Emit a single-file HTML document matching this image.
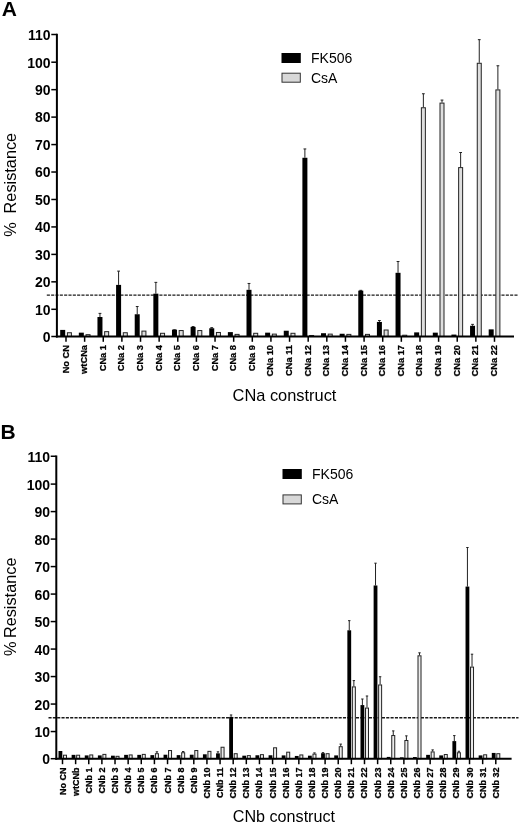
<!DOCTYPE html>
<html><head><meta charset="utf-8"><title>Figure</title>
<style>
html,body{margin:0;padding:0;background:#fff;}
body{width:520px;height:823px;overflow:hidden;font-family:"Liberation Sans",sans-serif;}
svg{display:block;transform:translateZ(0);will-change:transform;}
svg text{font-family:"Liberation Sans",sans-serif;fill:#000;}
</style></head>
<body>
<svg width="520" height="823" viewBox="0 0 520 823">
<rect x="0" y="0" width="520" height="823" fill="#fff"/>
<text x="1.8" y="16" font-size="21" font-weight="bold">A</text>
<text x="0.4" y="438.8" font-size="21" font-weight="bold">B</text>
<line x1="46.8" y1="295.12" x2="518.5" y2="295.12" stroke="#1a1a1a" stroke-width="1.35" stroke-dasharray="3.1 1.23"/>
<rect x="60.20" y="329.91" width="5" height="6.59" fill="#000"/>
<rect x="67.40" y="332.74" width="4" height="3.76" fill="#dedede" stroke="#222" stroke-width="1"/>
<rect x="78.83" y="332.66" width="5" height="3.84" fill="#000"/>
<rect x="86.03" y="334.67" width="4" height="1.83" fill="#dedede" stroke="#222" stroke-width="1"/>
<line x1="99.96" y1="313.39" x2="99.96" y2="317.01" stroke="#222" stroke-width="1"/>
<line x1="98.56" y1="313.39" x2="101.36" y2="313.39" stroke="#222" stroke-width="1"/>
<rect x="97.46" y="317.01" width="5" height="19.49" fill="#000"/>
<rect x="104.66" y="331.65" width="4" height="4.85" fill="#dedede" stroke="#222" stroke-width="1"/>
<line x1="118.59" y1="271.11" x2="118.59" y2="284.89" stroke="#222" stroke-width="1"/>
<line x1="117.19" y1="271.11" x2="119.99" y2="271.11" stroke="#222" stroke-width="1"/>
<rect x="116.09" y="284.89" width="5" height="51.61" fill="#000"/>
<rect x="123.29" y="332.74" width="4" height="3.76" fill="#dedede" stroke="#222" stroke-width="1"/>
<line x1="137.22" y1="306.53" x2="137.22" y2="314.26" stroke="#222" stroke-width="1"/>
<line x1="135.82" y1="306.53" x2="138.62" y2="306.53" stroke="#222" stroke-width="1"/>
<rect x="134.72" y="314.26" width="5" height="22.24" fill="#000"/>
<rect x="141.92" y="331.10" width="4" height="5.40" fill="#dedede" stroke="#222" stroke-width="1"/>
<line x1="155.85" y1="282.37" x2="155.85" y2="293.67" stroke="#222" stroke-width="1"/>
<line x1="154.45" y1="282.37" x2="157.25" y2="282.37" stroke="#222" stroke-width="1"/>
<rect x="153.35" y="293.67" width="5" height="42.83" fill="#000"/>
<rect x="160.55" y="333.29" width="4" height="3.21" fill="#dedede" stroke="#222" stroke-width="1"/>
<line x1="174.48" y1="329.86" x2="174.48" y2="329.64" stroke="#222" stroke-width="1"/>
<line x1="173.08" y1="329.86" x2="175.88" y2="329.86" stroke="#222" stroke-width="1"/>
<rect x="171.98" y="329.64" width="5" height="6.86" fill="#000"/>
<rect x="179.18" y="330.55" width="4" height="5.95" fill="#dedede" stroke="#222" stroke-width="1"/>
<line x1="193.11" y1="326.57" x2="193.11" y2="326.89" stroke="#222" stroke-width="1"/>
<line x1="191.71" y1="326.57" x2="194.51" y2="326.57" stroke="#222" stroke-width="1"/>
<rect x="190.61" y="326.89" width="5" height="9.61" fill="#000"/>
<rect x="197.81" y="330.55" width="4" height="5.95" fill="#dedede" stroke="#222" stroke-width="1"/>
<line x1="211.74" y1="327.67" x2="211.74" y2="328.26" stroke="#222" stroke-width="1"/>
<line x1="210.34" y1="327.67" x2="213.14" y2="327.67" stroke="#222" stroke-width="1"/>
<rect x="209.24" y="328.26" width="5" height="8.24" fill="#000"/>
<rect x="216.44" y="332.47" width="4" height="4.03" fill="#dedede" stroke="#222" stroke-width="1"/>
<rect x="227.87" y="332.11" width="5" height="4.39" fill="#000"/>
<rect x="235.07" y="334.39" width="4" height="2.11" fill="#dedede" stroke="#222" stroke-width="1"/>
<line x1="249.00" y1="283.46" x2="249.00" y2="289.83" stroke="#222" stroke-width="1"/>
<line x1="247.60" y1="283.46" x2="250.40" y2="283.46" stroke="#222" stroke-width="1"/>
<rect x="246.50" y="289.83" width="5" height="46.67" fill="#000"/>
<rect x="253.70" y="333.29" width="4" height="3.21" fill="#dedede" stroke="#222" stroke-width="1"/>
<rect x="265.13" y="332.66" width="5" height="3.84" fill="#000"/>
<rect x="272.33" y="334.12" width="4" height="2.38" fill="#dedede" stroke="#222" stroke-width="1"/>
<rect x="283.76" y="330.73" width="5" height="5.77" fill="#000"/>
<rect x="290.96" y="333.29" width="4" height="3.21" fill="#dedede" stroke="#222" stroke-width="1"/>
<line x1="304.89" y1="148.94" x2="304.89" y2="157.77" stroke="#222" stroke-width="1"/>
<line x1="303.49" y1="148.94" x2="306.29" y2="148.94" stroke="#222" stroke-width="1"/>
<rect x="302.39" y="157.77" width="5" height="178.73" fill="#000"/>
<rect x="309.59" y="335.49" width="4" height="1.01" fill="#dedede" stroke="#222" stroke-width="1"/>
<rect x="321.02" y="333.21" width="5" height="3.29" fill="#000"/>
<rect x="328.22" y="334.12" width="4" height="2.38" fill="#dedede" stroke="#222" stroke-width="1"/>
<rect x="339.65" y="333.75" width="5" height="2.75" fill="#000"/>
<rect x="346.85" y="334.39" width="4" height="2.11" fill="#dedede" stroke="#222" stroke-width="1"/>
<line x1="360.78" y1="290.33" x2="360.78" y2="290.65" stroke="#222" stroke-width="1"/>
<line x1="359.38" y1="290.33" x2="362.18" y2="290.33" stroke="#222" stroke-width="1"/>
<rect x="358.28" y="290.65" width="5" height="45.85" fill="#000"/>
<rect x="365.48" y="334.39" width="4" height="2.11" fill="#dedede" stroke="#222" stroke-width="1"/>
<line x1="379.41" y1="320.53" x2="379.41" y2="321.95" stroke="#222" stroke-width="1"/>
<line x1="378.01" y1="320.53" x2="380.81" y2="320.53" stroke="#222" stroke-width="1"/>
<rect x="376.91" y="321.95" width="5" height="14.55" fill="#000"/>
<rect x="384.11" y="330.00" width="4" height="6.50" fill="#dedede" stroke="#222" stroke-width="1"/>
<line x1="398.04" y1="261.50" x2="398.04" y2="272.81" stroke="#222" stroke-width="1"/>
<line x1="396.64" y1="261.50" x2="399.44" y2="261.50" stroke="#222" stroke-width="1"/>
<rect x="395.54" y="272.81" width="5" height="63.69" fill="#000"/>
<rect x="402.74" y="335.22" width="4" height="1.28" fill="#dedede" stroke="#222" stroke-width="1"/>
<rect x="414.17" y="332.38" width="5" height="4.12" fill="#000"/>
<line x1="423.37" y1="93.75" x2="423.37" y2="107.25" stroke="#222" stroke-width="1"/>
<line x1="421.97" y1="93.75" x2="424.77" y2="93.75" stroke="#222" stroke-width="1"/>
<rect x="421.37" y="107.75" width="4" height="228.75" fill="#dedede" stroke="#222" stroke-width="1"/>
<rect x="432.80" y="332.66" width="5" height="3.84" fill="#000"/>
<line x1="442.00" y1="100.07" x2="442.00" y2="102.59" stroke="#222" stroke-width="1"/>
<line x1="440.60" y1="100.07" x2="443.40" y2="100.07" stroke="#222" stroke-width="1"/>
<rect x="440.00" y="103.09" width="4" height="233.41" fill="#dedede" stroke="#222" stroke-width="1"/>
<rect x="451.43" y="334.58" width="5" height="1.92" fill="#000"/>
<line x1="460.63" y1="152.51" x2="460.63" y2="167.11" stroke="#222" stroke-width="1"/>
<line x1="459.23" y1="152.51" x2="462.03" y2="152.51" stroke="#222" stroke-width="1"/>
<rect x="458.63" y="167.61" width="4" height="168.89" fill="#dedede" stroke="#222" stroke-width="1"/>
<line x1="472.56" y1="324.37" x2="472.56" y2="325.79" stroke="#222" stroke-width="1"/>
<line x1="471.16" y1="324.37" x2="473.96" y2="324.37" stroke="#222" stroke-width="1"/>
<rect x="470.06" y="325.79" width="5" height="10.71" fill="#000"/>
<line x1="479.26" y1="39.67" x2="479.26" y2="62.78" stroke="#222" stroke-width="1"/>
<line x1="477.86" y1="39.67" x2="480.66" y2="39.67" stroke="#222" stroke-width="1"/>
<rect x="477.26" y="63.28" width="4" height="273.22" fill="#dedede" stroke="#222" stroke-width="1"/>
<rect x="488.69" y="329.36" width="5" height="7.14" fill="#000"/>
<line x1="497.89" y1="65.75" x2="497.89" y2="89.41" stroke="#222" stroke-width="1"/>
<line x1="496.49" y1="65.75" x2="499.29" y2="65.75" stroke="#222" stroke-width="1"/>
<rect x="495.89" y="89.91" width="4" height="246.59" fill="#dedede" stroke="#222" stroke-width="1"/>
<line x1="56.9" y1="33.75" x2="56.9" y2="337.50" stroke="#000" stroke-width="2"/>
<line x1="55.9" y1="336.50" x2="514" y2="336.50" stroke="#000" stroke-width="2"/>
<line x1="51.30" y1="336.50" x2="56.9" y2="336.50" stroke="#000" stroke-width="1.5"/>
<text transform="translate(50.60,341.85) scale(1,1.07)" text-anchor="end" font-size="14" font-weight="bold">0</text>
<line x1="51.30" y1="309.30" x2="56.9" y2="309.30" stroke="#000" stroke-width="1.5"/>
<text transform="translate(50.60,314.65) scale(1,1.07)" text-anchor="end" font-size="14" font-weight="bold">10</text>
<line x1="51.30" y1="281.84" x2="56.9" y2="281.84" stroke="#000" stroke-width="1.5"/>
<text transform="translate(50.60,287.19) scale(1,1.07)" text-anchor="end" font-size="14" font-weight="bold">20</text>
<line x1="51.30" y1="254.39" x2="56.9" y2="254.39" stroke="#000" stroke-width="1.5"/>
<text transform="translate(50.60,259.74) scale(1,1.07)" text-anchor="end" font-size="14" font-weight="bold">30</text>
<line x1="51.30" y1="226.93" x2="56.9" y2="226.93" stroke="#000" stroke-width="1.5"/>
<text transform="translate(50.60,232.28) scale(1,1.07)" text-anchor="end" font-size="14" font-weight="bold">40</text>
<line x1="51.30" y1="199.48" x2="56.9" y2="199.48" stroke="#000" stroke-width="1.5"/>
<text transform="translate(50.60,204.83) scale(1,1.07)" text-anchor="end" font-size="14" font-weight="bold">50</text>
<line x1="51.30" y1="172.02" x2="56.9" y2="172.02" stroke="#000" stroke-width="1.5"/>
<text transform="translate(50.60,177.37) scale(1,1.07)" text-anchor="end" font-size="14" font-weight="bold">60</text>
<line x1="51.30" y1="144.57" x2="56.9" y2="144.57" stroke="#000" stroke-width="1.5"/>
<text transform="translate(50.60,149.92) scale(1,1.07)" text-anchor="end" font-size="14" font-weight="bold">70</text>
<line x1="51.30" y1="117.11" x2="56.9" y2="117.11" stroke="#000" stroke-width="1.5"/>
<text transform="translate(50.60,122.46) scale(1,1.07)" text-anchor="end" font-size="14" font-weight="bold">80</text>
<line x1="51.30" y1="89.66" x2="56.9" y2="89.66" stroke="#000" stroke-width="1.5"/>
<text transform="translate(50.60,95.01) scale(1,1.07)" text-anchor="end" font-size="14" font-weight="bold">90</text>
<line x1="51.30" y1="62.20" x2="56.9" y2="62.20" stroke="#000" stroke-width="1.5"/>
<text transform="translate(50.60,67.55) scale(1,1.07)" text-anchor="end" font-size="14" font-weight="bold">100</text>
<line x1="51.30" y1="34.50" x2="56.9" y2="34.50" stroke="#000" stroke-width="1.5"/>
<text transform="translate(50.60,39.85) scale(1,1.07)" text-anchor="end" font-size="14" font-weight="bold">110</text>
<line x1="66.00" y1="336.50" x2="66.00" y2="341.8" stroke="#000" stroke-width="1.5"/>
<text transform="translate(68.50,345) rotate(-90) scale(1,1.05)" text-anchor="end" font-size="9.3" font-weight="bold" stroke="#000" stroke-width="0.25">No CN</text>
<line x1="84.63" y1="336.50" x2="84.63" y2="341.8" stroke="#000" stroke-width="1.5"/>
<text transform="translate(87.13,345) rotate(-90) scale(1,1.05)" text-anchor="end" font-size="9.3" font-weight="bold" stroke="#000" stroke-width="0.25">wtCNa</text>
<line x1="103.26" y1="336.50" x2="103.26" y2="341.8" stroke="#000" stroke-width="1.5"/>
<text transform="translate(105.76,345) rotate(-90) scale(1,1.05)" text-anchor="end" font-size="9.3" font-weight="bold" stroke="#000" stroke-width="0.25">CNa 1</text>
<line x1="121.89" y1="336.50" x2="121.89" y2="341.8" stroke="#000" stroke-width="1.5"/>
<text transform="translate(124.39,345) rotate(-90) scale(1,1.05)" text-anchor="end" font-size="9.3" font-weight="bold" stroke="#000" stroke-width="0.25">CNa 2</text>
<line x1="140.52" y1="336.50" x2="140.52" y2="341.8" stroke="#000" stroke-width="1.5"/>
<text transform="translate(143.02,345) rotate(-90) scale(1,1.05)" text-anchor="end" font-size="9.3" font-weight="bold" stroke="#000" stroke-width="0.25">CNa 3</text>
<line x1="159.15" y1="336.50" x2="159.15" y2="341.8" stroke="#000" stroke-width="1.5"/>
<text transform="translate(161.65,345) rotate(-90) scale(1,1.05)" text-anchor="end" font-size="9.3" font-weight="bold" stroke="#000" stroke-width="0.25">CNa 4</text>
<line x1="177.78" y1="336.50" x2="177.78" y2="341.8" stroke="#000" stroke-width="1.5"/>
<text transform="translate(180.28,345) rotate(-90) scale(1,1.05)" text-anchor="end" font-size="9.3" font-weight="bold" stroke="#000" stroke-width="0.25">CNa 5</text>
<line x1="196.41" y1="336.50" x2="196.41" y2="341.8" stroke="#000" stroke-width="1.5"/>
<text transform="translate(198.91,345) rotate(-90) scale(1,1.05)" text-anchor="end" font-size="9.3" font-weight="bold" stroke="#000" stroke-width="0.25">CNa 6</text>
<line x1="215.04" y1="336.50" x2="215.04" y2="341.8" stroke="#000" stroke-width="1.5"/>
<text transform="translate(217.54,345) rotate(-90) scale(1,1.05)" text-anchor="end" font-size="9.3" font-weight="bold" stroke="#000" stroke-width="0.25">CNa 7</text>
<line x1="233.67" y1="336.50" x2="233.67" y2="341.8" stroke="#000" stroke-width="1.5"/>
<text transform="translate(236.17,345) rotate(-90) scale(1,1.05)" text-anchor="end" font-size="9.3" font-weight="bold" stroke="#000" stroke-width="0.25">CNa 8</text>
<line x1="252.30" y1="336.50" x2="252.30" y2="341.8" stroke="#000" stroke-width="1.5"/>
<text transform="translate(254.80,345) rotate(-90) scale(1,1.05)" text-anchor="end" font-size="9.3" font-weight="bold" stroke="#000" stroke-width="0.25">CNa 9</text>
<line x1="270.93" y1="336.50" x2="270.93" y2="341.8" stroke="#000" stroke-width="1.5"/>
<text transform="translate(273.43,345) rotate(-90) scale(1,1.05)" text-anchor="end" font-size="9.3" font-weight="bold" stroke="#000" stroke-width="0.25">CNa 10</text>
<line x1="289.56" y1="336.50" x2="289.56" y2="341.8" stroke="#000" stroke-width="1.5"/>
<text transform="translate(292.06,345) rotate(-90) scale(1,1.05)" text-anchor="end" font-size="9.3" font-weight="bold" stroke="#000" stroke-width="0.25">CNa 11</text>
<line x1="308.19" y1="336.50" x2="308.19" y2="341.8" stroke="#000" stroke-width="1.5"/>
<text transform="translate(310.69,345) rotate(-90) scale(1,1.05)" text-anchor="end" font-size="9.3" font-weight="bold" stroke="#000" stroke-width="0.25">CNa 12</text>
<line x1="326.82" y1="336.50" x2="326.82" y2="341.8" stroke="#000" stroke-width="1.5"/>
<text transform="translate(329.32,345) rotate(-90) scale(1,1.05)" text-anchor="end" font-size="9.3" font-weight="bold" stroke="#000" stroke-width="0.25">CNa 13</text>
<line x1="345.45" y1="336.50" x2="345.45" y2="341.8" stroke="#000" stroke-width="1.5"/>
<text transform="translate(347.95,345) rotate(-90) scale(1,1.05)" text-anchor="end" font-size="9.3" font-weight="bold" stroke="#000" stroke-width="0.25">CNa 14</text>
<line x1="364.08" y1="336.50" x2="364.08" y2="341.8" stroke="#000" stroke-width="1.5"/>
<text transform="translate(366.58,345) rotate(-90) scale(1,1.05)" text-anchor="end" font-size="9.3" font-weight="bold" stroke="#000" stroke-width="0.25">CNa 15</text>
<line x1="382.71" y1="336.50" x2="382.71" y2="341.8" stroke="#000" stroke-width="1.5"/>
<text transform="translate(385.21,345) rotate(-90) scale(1,1.05)" text-anchor="end" font-size="9.3" font-weight="bold" stroke="#000" stroke-width="0.25">CNa 16</text>
<line x1="401.34" y1="336.50" x2="401.34" y2="341.8" stroke="#000" stroke-width="1.5"/>
<text transform="translate(403.84,345) rotate(-90) scale(1,1.05)" text-anchor="end" font-size="9.3" font-weight="bold" stroke="#000" stroke-width="0.25">CNa 17</text>
<line x1="419.97" y1="336.50" x2="419.97" y2="341.8" stroke="#000" stroke-width="1.5"/>
<text transform="translate(422.47,345) rotate(-90) scale(1,1.05)" text-anchor="end" font-size="9.3" font-weight="bold" stroke="#000" stroke-width="0.25">CNa 18</text>
<line x1="438.60" y1="336.50" x2="438.60" y2="341.8" stroke="#000" stroke-width="1.5"/>
<text transform="translate(441.10,345) rotate(-90) scale(1,1.05)" text-anchor="end" font-size="9.3" font-weight="bold" stroke="#000" stroke-width="0.25">CNa 19</text>
<line x1="457.23" y1="336.50" x2="457.23" y2="341.8" stroke="#000" stroke-width="1.5"/>
<text transform="translate(459.73,345) rotate(-90) scale(1,1.05)" text-anchor="end" font-size="9.3" font-weight="bold" stroke="#000" stroke-width="0.25">CNa 20</text>
<line x1="475.86" y1="336.50" x2="475.86" y2="341.8" stroke="#000" stroke-width="1.5"/>
<text transform="translate(478.36,345) rotate(-90) scale(1,1.05)" text-anchor="end" font-size="9.3" font-weight="bold" stroke="#000" stroke-width="0.25">CNa 21</text>
<line x1="494.49" y1="336.50" x2="494.49" y2="341.8" stroke="#000" stroke-width="1.5"/>
<text transform="translate(496.99,345) rotate(-90) scale(1,1.05)" text-anchor="end" font-size="9.3" font-weight="bold" stroke="#000" stroke-width="0.25">CNa 22</text>
<text x="284.5" y="400.7" text-anchor="middle" font-size="16.4">CNa construct</text>
<text transform="translate(16.4,213.4) rotate(-90)" text-anchor="start" font-size="16.3">Resistance</text>
<text transform="translate(16.4,236.8) rotate(-90)" text-anchor="start" font-size="16.3">%</text>
<rect x="281.5" y="53" width="19.3" height="10" fill="#000"/>
<rect x="282.0" y="73.2" width="18.3" height="9" fill="#d8d8d8" stroke="#333" stroke-width="1"/>
<text x="311.0" y="63" font-size="14">FK506</text>
<text x="311.0" y="82.5" font-size="14">CsA</text>
<line x1="48.5" y1="717.76" x2="518.5" y2="717.76" stroke="#1a1a1a" stroke-width="1.35" stroke-dasharray="3.1 1.23"/>
<rect x="58.50" y="751.00" width="3.8" height="7.70" fill="#000"/>
<rect x="63.50" y="755.21" width="3" height="3.49" fill="#ececec" stroke="#222" stroke-width="1"/>
<rect x="71.63" y="754.85" width="3.8" height="3.85" fill="#000"/>
<rect x="76.63" y="755.21" width="3" height="3.49" fill="#ececec" stroke="#222" stroke-width="1"/>
<rect x="84.76" y="755.40" width="3.8" height="3.30" fill="#000"/>
<rect x="89.76" y="754.94" width="3" height="3.76" fill="#ececec" stroke="#222" stroke-width="1"/>
<rect x="97.89" y="755.40" width="3.8" height="3.30" fill="#000"/>
<rect x="102.89" y="754.39" width="3" height="4.31" fill="#ececec" stroke="#222" stroke-width="1"/>
<rect x="111.02" y="755.68" width="3.8" height="3.02" fill="#000"/>
<rect x="116.02" y="756.31" width="3" height="2.39" fill="#ececec" stroke="#222" stroke-width="1"/>
<rect x="124.15" y="754.85" width="3.8" height="3.85" fill="#000"/>
<rect x="129.15" y="754.94" width="3" height="3.76" fill="#ececec" stroke="#222" stroke-width="1"/>
<rect x="137.28" y="754.85" width="3.8" height="3.85" fill="#000"/>
<rect x="142.28" y="754.39" width="3" height="4.31" fill="#ececec" stroke="#222" stroke-width="1"/>
<rect x="150.41" y="755.13" width="3.8" height="3.57" fill="#000"/>
<line x1="156.91" y1="751.80" x2="156.91" y2="753.20" stroke="#222" stroke-width="1"/>
<line x1="155.71" y1="751.80" x2="158.11" y2="751.80" stroke="#222" stroke-width="1"/>
<rect x="155.41" y="753.70" width="3" height="5.00" fill="#ececec" stroke="#222" stroke-width="1"/>
<rect x="163.54" y="754.71" width="3.8" height="3.99" fill="#000"/>
<rect x="168.54" y="750.54" width="3" height="8.16" fill="#ececec" stroke="#222" stroke-width="1"/>
<rect x="176.67" y="755.13" width="3.8" height="3.57" fill="#000"/>
<line x1="183.17" y1="751.53" x2="183.17" y2="752.24" stroke="#222" stroke-width="1"/>
<line x1="181.97" y1="751.53" x2="184.37" y2="751.53" stroke="#222" stroke-width="1"/>
<rect x="181.67" y="752.74" width="3" height="5.96" fill="#ececec" stroke="#222" stroke-width="1"/>
<rect x="189.80" y="754.71" width="3.8" height="3.99" fill="#000"/>
<rect x="194.80" y="750.54" width="3" height="8.16" fill="#ececec" stroke="#222" stroke-width="1"/>
<rect x="202.93" y="754.30" width="3.8" height="4.40" fill="#000"/>
<rect x="207.93" y="751.36" width="3" height="7.34" fill="#ececec" stroke="#222" stroke-width="1"/>
<line x1="217.96" y1="751.80" x2="217.96" y2="753.34" stroke="#222" stroke-width="1"/>
<line x1="216.76" y1="751.80" x2="219.16" y2="751.80" stroke="#222" stroke-width="1"/>
<rect x="216.06" y="753.34" width="3.8" height="5.36" fill="#000"/>
<rect x="221.06" y="747.24" width="3" height="11.46" fill="#ececec" stroke="#222" stroke-width="1"/>
<line x1="231.09" y1="714.96" x2="231.09" y2="716.91" stroke="#222" stroke-width="1"/>
<line x1="229.89" y1="714.96" x2="232.29" y2="714.96" stroke="#222" stroke-width="1"/>
<rect x="229.19" y="716.91" width="3.8" height="41.79" fill="#000"/>
<rect x="234.19" y="753.70" width="3" height="5.00" fill="#ececec" stroke="#222" stroke-width="1"/>
<rect x="242.32" y="755.68" width="3.8" height="3.02" fill="#000"/>
<rect x="247.32" y="755.63" width="3" height="3.07" fill="#ececec" stroke="#222" stroke-width="1"/>
<rect x="255.45" y="755.26" width="3.8" height="3.44" fill="#000"/>
<rect x="260.45" y="754.66" width="3" height="4.04" fill="#ececec" stroke="#222" stroke-width="1"/>
<rect x="268.58" y="755.26" width="3.8" height="3.44" fill="#000"/>
<rect x="273.58" y="747.79" width="3" height="10.91" fill="#ececec" stroke="#222" stroke-width="1"/>
<rect x="281.71" y="755.40" width="3.8" height="3.30" fill="#000"/>
<rect x="286.71" y="752.19" width="3" height="6.51" fill="#ececec" stroke="#222" stroke-width="1"/>
<rect x="294.84" y="755.95" width="3.8" height="2.75" fill="#000"/>
<rect x="299.84" y="754.94" width="3" height="3.76" fill="#ececec" stroke="#222" stroke-width="1"/>
<rect x="307.97" y="755.68" width="3.8" height="3.02" fill="#000"/>
<line x1="314.47" y1="752.90" x2="314.47" y2="753.61" stroke="#222" stroke-width="1"/>
<line x1="313.27" y1="752.90" x2="315.67" y2="752.90" stroke="#222" stroke-width="1"/>
<rect x="312.97" y="754.11" width="3" height="4.59" fill="#ececec" stroke="#222" stroke-width="1"/>
<line x1="323.00" y1="752.63" x2="323.00" y2="753.20" stroke="#222" stroke-width="1"/>
<line x1="321.80" y1="752.63" x2="324.20" y2="752.63" stroke="#222" stroke-width="1"/>
<rect x="321.10" y="753.20" width="3.8" height="5.50" fill="#000"/>
<rect x="326.10" y="753.70" width="3" height="5.00" fill="#ececec" stroke="#222" stroke-width="1"/>
<rect x="334.23" y="755.40" width="3.8" height="3.30" fill="#000"/>
<line x1="340.73" y1="744.10" x2="340.73" y2="746.19" stroke="#222" stroke-width="1"/>
<line x1="339.53" y1="744.10" x2="341.93" y2="744.10" stroke="#222" stroke-width="1"/>
<rect x="339.23" y="746.69" width="3" height="12.01" fill="#ececec" stroke="#222" stroke-width="1"/>
<line x1="349.26" y1="620.65" x2="349.26" y2="630.30" stroke="#222" stroke-width="1"/>
<line x1="348.06" y1="620.65" x2="350.46" y2="620.65" stroke="#222" stroke-width="1"/>
<rect x="347.36" y="630.30" width="3.8" height="128.40" fill="#000"/>
<line x1="353.86" y1="680.59" x2="353.86" y2="686.39" stroke="#222" stroke-width="1"/>
<line x1="352.66" y1="680.59" x2="355.06" y2="680.59" stroke="#222" stroke-width="1"/>
<rect x="352.36" y="686.89" width="3" height="71.81" fill="#ececec" stroke="#222" stroke-width="1"/>
<line x1="362.39" y1="699.01" x2="362.39" y2="705.08" stroke="#222" stroke-width="1"/>
<line x1="361.19" y1="699.01" x2="363.59" y2="699.01" stroke="#222" stroke-width="1"/>
<rect x="360.49" y="705.08" width="3.8" height="53.62" fill="#000"/>
<line x1="366.99" y1="695.99" x2="366.99" y2="707.56" stroke="#222" stroke-width="1"/>
<line x1="365.79" y1="695.99" x2="368.19" y2="695.99" stroke="#222" stroke-width="1"/>
<rect x="365.49" y="708.06" width="3" height="50.64" fill="#ececec" stroke="#222" stroke-width="1"/>
<line x1="375.52" y1="563.18" x2="375.52" y2="585.48" stroke="#222" stroke-width="1"/>
<line x1="374.32" y1="563.18" x2="376.72" y2="563.18" stroke="#222" stroke-width="1"/>
<rect x="373.62" y="585.48" width="3.8" height="173.22" fill="#000"/>
<line x1="380.12" y1="676.74" x2="380.12" y2="684.46" stroke="#222" stroke-width="1"/>
<line x1="378.92" y1="676.74" x2="381.32" y2="676.74" stroke="#222" stroke-width="1"/>
<rect x="378.62" y="684.96" width="3" height="73.74" fill="#ececec" stroke="#222" stroke-width="1"/>
<rect x="386.75" y="756.91" width="3.8" height="1.79" fill="#000"/>
<line x1="393.25" y1="730.90" x2="393.25" y2="735.05" stroke="#222" stroke-width="1"/>
<line x1="392.05" y1="730.90" x2="394.45" y2="730.90" stroke="#222" stroke-width="1"/>
<rect x="391.75" y="735.55" width="3" height="23.15" fill="#ececec" stroke="#222" stroke-width="1"/>
<rect x="399.88" y="757.33" width="3.8" height="1.37" fill="#000"/>
<line x1="406.38" y1="735.85" x2="406.38" y2="740.00" stroke="#222" stroke-width="1"/>
<line x1="405.18" y1="735.85" x2="407.58" y2="735.85" stroke="#222" stroke-width="1"/>
<rect x="404.88" y="740.50" width="3" height="18.20" fill="#ececec" stroke="#222" stroke-width="1"/>
<rect x="413.01" y="757.05" width="3.8" height="1.65" fill="#000"/>
<line x1="419.51" y1="652.82" x2="419.51" y2="655.32" stroke="#222" stroke-width="1"/>
<line x1="418.31" y1="652.82" x2="420.71" y2="652.82" stroke="#222" stroke-width="1"/>
<rect x="418.01" y="655.82" width="3" height="102.88" fill="#ececec" stroke="#222" stroke-width="1"/>
<rect x="426.14" y="754.85" width="3.8" height="3.85" fill="#000"/>
<line x1="432.64" y1="749.88" x2="432.64" y2="751.41" stroke="#222" stroke-width="1"/>
<line x1="431.44" y1="749.88" x2="433.84" y2="749.88" stroke="#222" stroke-width="1"/>
<rect x="431.14" y="751.91" width="3" height="6.79" fill="#ececec" stroke="#222" stroke-width="1"/>
<rect x="439.27" y="755.40" width="3.8" height="3.30" fill="#000"/>
<rect x="444.27" y="754.53" width="3" height="4.17" fill="#ececec" stroke="#222" stroke-width="1"/>
<line x1="454.30" y1="735.58" x2="454.30" y2="741.10" stroke="#222" stroke-width="1"/>
<line x1="453.10" y1="735.58" x2="455.50" y2="735.58" stroke="#222" stroke-width="1"/>
<rect x="452.40" y="741.10" width="3.8" height="17.60" fill="#000"/>
<line x1="458.90" y1="751.25" x2="458.90" y2="752.24" stroke="#222" stroke-width="1"/>
<line x1="457.70" y1="751.25" x2="460.10" y2="751.25" stroke="#222" stroke-width="1"/>
<rect x="457.40" y="752.74" width="3" height="5.96" fill="#ececec" stroke="#222" stroke-width="1"/>
<line x1="467.43" y1="547.51" x2="467.43" y2="586.58" stroke="#222" stroke-width="1"/>
<line x1="466.23" y1="547.51" x2="468.63" y2="547.51" stroke="#222" stroke-width="1"/>
<rect x="465.53" y="586.58" width="3.8" height="172.12" fill="#000"/>
<line x1="472.03" y1="654.19" x2="472.03" y2="666.59" stroke="#222" stroke-width="1"/>
<line x1="470.83" y1="654.19" x2="473.23" y2="654.19" stroke="#222" stroke-width="1"/>
<rect x="470.53" y="667.09" width="3" height="91.61" fill="#ececec" stroke="#222" stroke-width="1"/>
<rect x="478.66" y="755.40" width="3.8" height="3.30" fill="#000"/>
<rect x="483.66" y="754.80" width="3" height="3.90" fill="#ececec" stroke="#222" stroke-width="1"/>
<rect x="491.79" y="752.93" width="3.8" height="5.77" fill="#000"/>
<rect x="496.79" y="753.70" width="3" height="5.00" fill="#ececec" stroke="#222" stroke-width="1"/>
<line x1="56.3" y1="455.50" x2="56.3" y2="759.70" stroke="#000" stroke-width="2"/>
<line x1="55.3" y1="758.70" x2="511.6" y2="758.70" stroke="#000" stroke-width="2"/>
<line x1="50.70" y1="758.70" x2="56.3" y2="758.70" stroke="#000" stroke-width="1.5"/>
<text transform="translate(50.00,764.20) scale(1,1.07)" text-anchor="end" font-size="14" font-weight="bold">0</text>
<line x1="50.70" y1="731.55" x2="56.3" y2="731.55" stroke="#000" stroke-width="1.5"/>
<text transform="translate(50.00,737.05) scale(1,1.07)" text-anchor="end" font-size="14" font-weight="bold">10</text>
<line x1="50.70" y1="704.06" x2="56.3" y2="704.06" stroke="#000" stroke-width="1.5"/>
<text transform="translate(50.00,709.56) scale(1,1.07)" text-anchor="end" font-size="14" font-weight="bold">20</text>
<line x1="50.70" y1="676.56" x2="56.3" y2="676.56" stroke="#000" stroke-width="1.5"/>
<text transform="translate(50.00,682.06) scale(1,1.07)" text-anchor="end" font-size="14" font-weight="bold">30</text>
<line x1="50.70" y1="649.07" x2="56.3" y2="649.07" stroke="#000" stroke-width="1.5"/>
<text transform="translate(50.00,654.57) scale(1,1.07)" text-anchor="end" font-size="14" font-weight="bold">40</text>
<line x1="50.70" y1="621.57" x2="56.3" y2="621.57" stroke="#000" stroke-width="1.5"/>
<text transform="translate(50.00,627.07) scale(1,1.07)" text-anchor="end" font-size="14" font-weight="bold">50</text>
<line x1="50.70" y1="594.08" x2="56.3" y2="594.08" stroke="#000" stroke-width="1.5"/>
<text transform="translate(50.00,599.58) scale(1,1.07)" text-anchor="end" font-size="14" font-weight="bold">60</text>
<line x1="50.70" y1="566.58" x2="56.3" y2="566.58" stroke="#000" stroke-width="1.5"/>
<text transform="translate(50.00,572.08) scale(1,1.07)" text-anchor="end" font-size="14" font-weight="bold">70</text>
<line x1="50.70" y1="539.09" x2="56.3" y2="539.09" stroke="#000" stroke-width="1.5"/>
<text transform="translate(50.00,544.59) scale(1,1.07)" text-anchor="end" font-size="14" font-weight="bold">80</text>
<line x1="50.70" y1="511.59" x2="56.3" y2="511.59" stroke="#000" stroke-width="1.5"/>
<text transform="translate(50.00,517.09) scale(1,1.07)" text-anchor="end" font-size="14" font-weight="bold">90</text>
<line x1="50.70" y1="484.10" x2="56.3" y2="484.10" stroke="#000" stroke-width="1.5"/>
<text transform="translate(50.00,489.60) scale(1,1.07)" text-anchor="end" font-size="14" font-weight="bold">100</text>
<line x1="50.70" y1="456.25" x2="56.3" y2="456.25" stroke="#000" stroke-width="1.5"/>
<text transform="translate(50.00,461.75) scale(1,1.07)" text-anchor="end" font-size="14" font-weight="bold">110</text>
<line x1="62.50" y1="758.70" x2="62.50" y2="764.2" stroke="#000" stroke-width="1.5"/>
<text transform="translate(65.50,767.5) rotate(-90) scale(1,1.08)" text-anchor="end" font-size="9" font-weight="bold" stroke="#000" stroke-width="0.25">No CN</text>
<line x1="75.63" y1="758.70" x2="75.63" y2="764.2" stroke="#000" stroke-width="1.5"/>
<text transform="translate(78.63,767.5) rotate(-90) scale(1,1.08)" text-anchor="end" font-size="9" font-weight="bold" stroke="#000" stroke-width="0.25">wtCNb</text>
<line x1="88.76" y1="758.70" x2="88.76" y2="764.2" stroke="#000" stroke-width="1.5"/>
<text transform="translate(91.76,767.5) rotate(-90) scale(1,1.08)" text-anchor="end" font-size="9" font-weight="bold" stroke="#000" stroke-width="0.25">CNb 1</text>
<line x1="101.89" y1="758.70" x2="101.89" y2="764.2" stroke="#000" stroke-width="1.5"/>
<text transform="translate(104.89,767.5) rotate(-90) scale(1,1.08)" text-anchor="end" font-size="9" font-weight="bold" stroke="#000" stroke-width="0.25">CNb 2</text>
<line x1="115.02" y1="758.70" x2="115.02" y2="764.2" stroke="#000" stroke-width="1.5"/>
<text transform="translate(118.02,767.5) rotate(-90) scale(1,1.08)" text-anchor="end" font-size="9" font-weight="bold" stroke="#000" stroke-width="0.25">CNb 3</text>
<line x1="128.15" y1="758.70" x2="128.15" y2="764.2" stroke="#000" stroke-width="1.5"/>
<text transform="translate(131.15,767.5) rotate(-90) scale(1,1.08)" text-anchor="end" font-size="9" font-weight="bold" stroke="#000" stroke-width="0.25">CNb 4</text>
<line x1="141.28" y1="758.70" x2="141.28" y2="764.2" stroke="#000" stroke-width="1.5"/>
<text transform="translate(144.28,767.5) rotate(-90) scale(1,1.08)" text-anchor="end" font-size="9" font-weight="bold" stroke="#000" stroke-width="0.25">CNb 5</text>
<line x1="154.41" y1="758.70" x2="154.41" y2="764.2" stroke="#000" stroke-width="1.5"/>
<text transform="translate(157.41,767.5) rotate(-90) scale(1,1.08)" text-anchor="end" font-size="9" font-weight="bold" stroke="#000" stroke-width="0.25">CNb 6</text>
<line x1="167.54" y1="758.70" x2="167.54" y2="764.2" stroke="#000" stroke-width="1.5"/>
<text transform="translate(170.54,767.5) rotate(-90) scale(1,1.08)" text-anchor="end" font-size="9" font-weight="bold" stroke="#000" stroke-width="0.25">CNb 7</text>
<line x1="180.67" y1="758.70" x2="180.67" y2="764.2" stroke="#000" stroke-width="1.5"/>
<text transform="translate(183.67,767.5) rotate(-90) scale(1,1.08)" text-anchor="end" font-size="9" font-weight="bold" stroke="#000" stroke-width="0.25">CNb 8</text>
<line x1="193.80" y1="758.70" x2="193.80" y2="764.2" stroke="#000" stroke-width="1.5"/>
<text transform="translate(196.80,767.5) rotate(-90) scale(1,1.08)" text-anchor="end" font-size="9" font-weight="bold" stroke="#000" stroke-width="0.25">CNb 9</text>
<line x1="206.93" y1="758.70" x2="206.93" y2="764.2" stroke="#000" stroke-width="1.5"/>
<text transform="translate(209.93,767.5) rotate(-90) scale(1,1.08)" text-anchor="end" font-size="9" font-weight="bold" stroke="#000" stroke-width="0.25">CNb 10</text>
<line x1="220.06" y1="758.70" x2="220.06" y2="764.2" stroke="#000" stroke-width="1.5"/>
<text transform="translate(223.06,767.5) rotate(-90) scale(1,1.08)" text-anchor="end" font-size="9" font-weight="bold" stroke="#000" stroke-width="0.25">CNb 11</text>
<line x1="233.19" y1="758.70" x2="233.19" y2="764.2" stroke="#000" stroke-width="1.5"/>
<text transform="translate(236.19,767.5) rotate(-90) scale(1,1.08)" text-anchor="end" font-size="9" font-weight="bold" stroke="#000" stroke-width="0.25">CNb 12</text>
<line x1="246.32" y1="758.70" x2="246.32" y2="764.2" stroke="#000" stroke-width="1.5"/>
<text transform="translate(249.32,767.5) rotate(-90) scale(1,1.08)" text-anchor="end" font-size="9" font-weight="bold" stroke="#000" stroke-width="0.25">CNb 13</text>
<line x1="259.45" y1="758.70" x2="259.45" y2="764.2" stroke="#000" stroke-width="1.5"/>
<text transform="translate(262.45,767.5) rotate(-90) scale(1,1.08)" text-anchor="end" font-size="9" font-weight="bold" stroke="#000" stroke-width="0.25">CNb 14</text>
<line x1="272.58" y1="758.70" x2="272.58" y2="764.2" stroke="#000" stroke-width="1.5"/>
<text transform="translate(275.58,767.5) rotate(-90) scale(1,1.08)" text-anchor="end" font-size="9" font-weight="bold" stroke="#000" stroke-width="0.25">CNb 15</text>
<line x1="285.71" y1="758.70" x2="285.71" y2="764.2" stroke="#000" stroke-width="1.5"/>
<text transform="translate(288.71,767.5) rotate(-90) scale(1,1.08)" text-anchor="end" font-size="9" font-weight="bold" stroke="#000" stroke-width="0.25">CNb 16</text>
<line x1="298.84" y1="758.70" x2="298.84" y2="764.2" stroke="#000" stroke-width="1.5"/>
<text transform="translate(301.84,767.5) rotate(-90) scale(1,1.08)" text-anchor="end" font-size="9" font-weight="bold" stroke="#000" stroke-width="0.25">CNb 17</text>
<line x1="311.97" y1="758.70" x2="311.97" y2="764.2" stroke="#000" stroke-width="1.5"/>
<text transform="translate(314.97,767.5) rotate(-90) scale(1,1.08)" text-anchor="end" font-size="9" font-weight="bold" stroke="#000" stroke-width="0.25">CNb 18</text>
<line x1="325.10" y1="758.70" x2="325.10" y2="764.2" stroke="#000" stroke-width="1.5"/>
<text transform="translate(328.10,767.5) rotate(-90) scale(1,1.08)" text-anchor="end" font-size="9" font-weight="bold" stroke="#000" stroke-width="0.25">CNb 19</text>
<line x1="338.23" y1="758.70" x2="338.23" y2="764.2" stroke="#000" stroke-width="1.5"/>
<text transform="translate(341.23,767.5) rotate(-90) scale(1,1.08)" text-anchor="end" font-size="9" font-weight="bold" stroke="#000" stroke-width="0.25">CNb 20</text>
<line x1="351.36" y1="758.70" x2="351.36" y2="764.2" stroke="#000" stroke-width="1.5"/>
<text transform="translate(354.36,767.5) rotate(-90) scale(1,1.08)" text-anchor="end" font-size="9" font-weight="bold" stroke="#000" stroke-width="0.25">CNb 21</text>
<line x1="364.49" y1="758.70" x2="364.49" y2="764.2" stroke="#000" stroke-width="1.5"/>
<text transform="translate(367.49,767.5) rotate(-90) scale(1,1.08)" text-anchor="end" font-size="9" font-weight="bold" stroke="#000" stroke-width="0.25">CNb 22</text>
<line x1="377.62" y1="758.70" x2="377.62" y2="764.2" stroke="#000" stroke-width="1.5"/>
<text transform="translate(380.62,767.5) rotate(-90) scale(1,1.08)" text-anchor="end" font-size="9" font-weight="bold" stroke="#000" stroke-width="0.25">CNb 23</text>
<line x1="390.75" y1="758.70" x2="390.75" y2="764.2" stroke="#000" stroke-width="1.5"/>
<text transform="translate(393.75,767.5) rotate(-90) scale(1,1.08)" text-anchor="end" font-size="9" font-weight="bold" stroke="#000" stroke-width="0.25">CNb 24</text>
<line x1="403.88" y1="758.70" x2="403.88" y2="764.2" stroke="#000" stroke-width="1.5"/>
<text transform="translate(406.88,767.5) rotate(-90) scale(1,1.08)" text-anchor="end" font-size="9" font-weight="bold" stroke="#000" stroke-width="0.25">CNb 25</text>
<line x1="417.01" y1="758.70" x2="417.01" y2="764.2" stroke="#000" stroke-width="1.5"/>
<text transform="translate(420.01,767.5) rotate(-90) scale(1,1.08)" text-anchor="end" font-size="9" font-weight="bold" stroke="#000" stroke-width="0.25">CNb 26</text>
<line x1="430.14" y1="758.70" x2="430.14" y2="764.2" stroke="#000" stroke-width="1.5"/>
<text transform="translate(433.14,767.5) rotate(-90) scale(1,1.08)" text-anchor="end" font-size="9" font-weight="bold" stroke="#000" stroke-width="0.25">CNb 27</text>
<line x1="443.27" y1="758.70" x2="443.27" y2="764.2" stroke="#000" stroke-width="1.5"/>
<text transform="translate(446.27,767.5) rotate(-90) scale(1,1.08)" text-anchor="end" font-size="9" font-weight="bold" stroke="#000" stroke-width="0.25">CNb 28</text>
<line x1="456.40" y1="758.70" x2="456.40" y2="764.2" stroke="#000" stroke-width="1.5"/>
<text transform="translate(459.40,767.5) rotate(-90) scale(1,1.08)" text-anchor="end" font-size="9" font-weight="bold" stroke="#000" stroke-width="0.25">CNb 29</text>
<line x1="469.53" y1="758.70" x2="469.53" y2="764.2" stroke="#000" stroke-width="1.5"/>
<text transform="translate(472.53,767.5) rotate(-90) scale(1,1.08)" text-anchor="end" font-size="9" font-weight="bold" stroke="#000" stroke-width="0.25">CNb 30</text>
<line x1="482.66" y1="758.70" x2="482.66" y2="764.2" stroke="#000" stroke-width="1.5"/>
<text transform="translate(485.66,767.5) rotate(-90) scale(1,1.08)" text-anchor="end" font-size="9" font-weight="bold" stroke="#000" stroke-width="0.25">CNb 31</text>
<line x1="495.79" y1="758.70" x2="495.79" y2="764.2" stroke="#000" stroke-width="1.5"/>
<text transform="translate(498.79,767.5) rotate(-90) scale(1,1.08)" text-anchor="end" font-size="9" font-weight="bold" stroke="#000" stroke-width="0.25">CNb 32</text>
<text x="283.9" y="822.0" text-anchor="middle" font-size="16.15">CNb construct</text>
<text transform="translate(16.4,638.1) rotate(-90)" text-anchor="start" font-size="16.3">Resistance</text>
<text transform="translate(16.4,656.1) rotate(-90)" text-anchor="start" font-size="16.3">%</text>
<rect x="282.5" y="469" width="19.3" height="10" fill="#000"/>
<rect x="283.0" y="494.9" width="18.3" height="9" fill="#d8d8d8" stroke="#333" stroke-width="1"/>
<text x="312.0" y="479" font-size="14">FK506</text>
<text x="312.0" y="504.2" font-size="14">CsA</text>
</svg>
</body></html>
